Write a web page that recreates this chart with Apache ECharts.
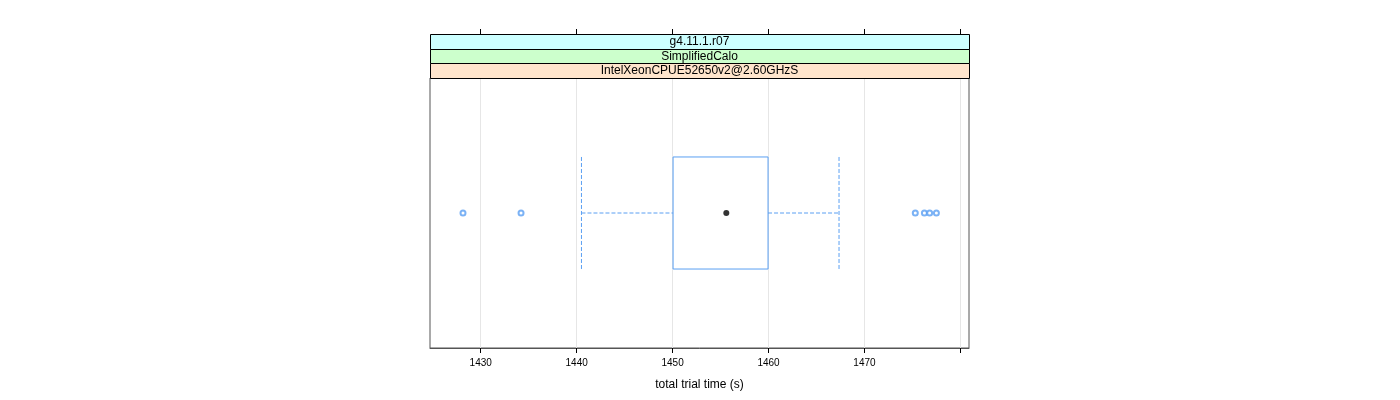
<!DOCTYPE html>
<html>
<head>
<meta charset="utf-8">
<script src="https://cdn.jsdelivr.net/npm/echarts@6/dist/echarts.min.js"></script>
<style>
html,body{margin:0;padding:0;background:#fff;}
#chart{width:1400px;height:400px;}
</style>
</head>
<body>
<div id="chart"></div>
<script>
// ---- data ----
const stripLabels = ['g4.11.1.r07', 'SimplifiedCalo', 'IntelXeonCPUE52650v2@2.60GHzS'];
const boxStats = [1440.5, 1450.05, 1455.6, 1459.95, 1467.35]; // lower whisker, Q1, median, Q3, upper whisker
const outliers = [1428.15, 1434.2, 1475.3, 1476.25, 1476.8, 1477.5];
const tickValues = [1430, 1440, 1450, 1460, 1470, 1480];
const labelValues = [1430, 1440, 1450, 1460, 1470];
const xMin = 1424.71, xMax = 1480.9;
const xTitle = 'total trial time (s)';

const BLUE = '#5a9ff2';
const FONT = '"Liberation Sans", Arial, sans-serif';

const chart = echarts.init(document.getElementById('chart'), null, {renderer: 'canvas'});

const panelL = 430, panelR = 969, stripTop = 34, stripH = 14.67;

const graphics = [];
stripLabels.forEach((t, i) => {
  const colors = ['#ccffff', '#ccffcc', '#ffe5cc'];
  graphics.push({
    type: 'rect',
    shape: {x: panelL + 0.5, y: Math.round(stripTop + i * stripH) + 0.5, width: panelR - panelL, height: Math.round(stripTop + (i + 1) * stripH) - Math.round(stripTop + i * stripH)},
    style: {fill: colors[i], stroke: '#000', lineWidth: 1},
    z: 10
  });
  graphics.push({
    type: 'text',
    x: (panelL + panelR) / 2,
    y: stripTop + (i + 0.5) * stripH + 0.5,
    style: {text: t, fill: '#000', font: '12px ' + FONT, textAlign: 'center', textVerticalAlign: 'middle'},
    z: 11
  });
});

const fmt = v => String(v);

const option = {
  animation: false,
  backgroundColor: '#fff',
  graphic: graphics,
  grid: [
    {left: panelL, top: 78, width: panelR - panelL, height: 270, show: true, borderColor: '#555', borderWidth: 1, backgroundColor: 'transparent'},
    {left: panelL, top: 34, width: panelR - panelL, height: 314, show: false}
  ],
  xAxis: [{
    type: 'value', gridIndex: 0, position: 'bottom', min: xMin, max: xMax,
    axisLine: {show: true, onZero: false, lineStyle: {color: '#555'}},
    axisTick: {show: true, inside: false, length: 5, lineStyle: {color: '#000'}, customValues: tickValues},
    axisLabel: {show: true, customValues: labelValues, formatter: fmt, color: '#000', fontSize: 10, fontFamily: FONT, margin: 10},
    splitLine: {show: true, lineStyle: {color: '#e6e6e6', width: 1}},
    name: xTitle, nameLocation: 'middle', nameGap: 31,
    nameTextStyle: {color: '#000', fontSize: 12, fontFamily: FONT}
  }, {
    type: 'value', gridIndex: 1, position: 'top', min: xMin, max: xMax,
    axisLine: {show: false, onZero: false},
    axisTick: {show: true, inside: false, length: 5, lineStyle: {color: '#000'}, customValues: tickValues},
    axisLabel: {show: false},
    splitLine: {show: false}
  }],
  yAxis: [
    {type: 'value', gridIndex: 0, min: 0, max: 1, show: false},
    {type: 'value', gridIndex: 1, min: 0, max: 1, show: false}
  ],
  series: [{
    type: 'custom',
    xAxisIndex: 0, yAxisIndex: 0,
    data: [boxStats.concat([0.5])],
    encode: {x: [0, 1, 2, 3, 4], y: 5},
    renderItem: function (params, api) {
      const y = api.value(5);
      const lo = api.coord([api.value(0), y]);
      const q1 = api.coord([api.value(1), y]);
      const q3 = api.coord([api.value(3), y]);
      const hi = api.coord([api.value(4), y]);
      const h = api.size([0, 0.415])[1];
      const cy = lo[1];
      const dashStyle = {stroke: BLUE, lineWidth: 1, lineDash: [4, 2], fill: null};
      return {
        type: 'group',
        children: [
          {type: 'rect', shape: {x: q1[0], y: cy - h / 2, width: q3[0] - q1[0], height: h}, style: {stroke: BLUE, lineWidth: 1, fill: null}},
          {type: 'line', shape: {x1: lo[0], y1: cy, x2: q1[0], y2: cy}, style: dashStyle},
          {type: 'line', shape: {x1: q3[0], y1: cy, x2: hi[0], y2: cy}, style: dashStyle},
          {type: 'line', shape: {x1: lo[0], y1: cy - h / 2, x2: lo[0], y2: cy + h / 2}, style: dashStyle},
          {type: 'line', shape: {x1: hi[0], y1: cy - h / 2, x2: hi[0], y2: cy + h / 2}, style: dashStyle}
        ]
      };
    },
    z: 3
  }, {
    type: 'scatter',
    xAxisIndex: 0, yAxisIndex: 0,
    data: [[boxStats[2], 0.5]],
    symbol: 'circle', symbolSize: 6,
    itemStyle: {color: '#000'},
    z: 5
  }, {
    type: 'scatter',
    xAxisIndex: 0, yAxisIndex: 0,
    data: outliers.map(v => [v, 0.5]),
    symbol: 'emptyCircle', symbolSize: 5,
    itemStyle: {color: BLUE, borderColor: BLUE, borderWidth: 1},
    z: 5
  }]
};
chart.setOption(option);
</script>
</body>
</html>
